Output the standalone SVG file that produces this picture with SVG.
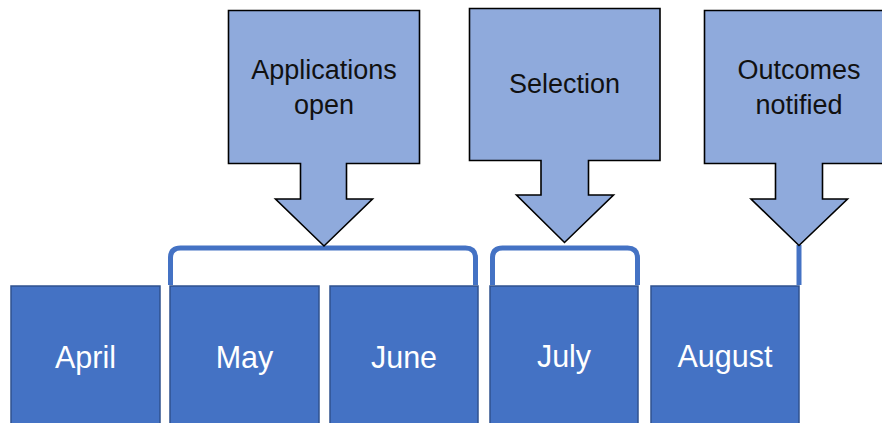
<svg xmlns="http://www.w3.org/2000/svg" width="882" height="423" viewBox="0 0 882 423">
<style>
.callout{fill:#8FAADC;stroke:#000;stroke-width:1.6;stroke-linejoin:miter}
.month{fill:#4472C4;stroke:#2F528F;stroke-width:1.5}
.ct{font-family:"Liberation Sans",Arial,sans-serif;font-size:27px;fill:#111;text-anchor:middle}
.mt{font-family:"Liberation Sans",Arial,sans-serif;font-size:30.5px;fill:#fff;text-anchor:middle}
.br{fill:none;stroke:#4472C4;stroke-width:5;stroke-linecap:butt}
</style>
<rect width="882" height="423" fill="#fff"/>
<g id="april"><rect class="month" x="11" y="286" width="149" height="145"/><text class="mt" x="85.5" y="368">April</text></g>
<g id="may"><rect class="month" x="170" y="286" width="149" height="145"/><text class="mt" x="244.5" y="368">May</text></g>
<g id="june"><rect class="month" x="330" y="286" width="148" height="145"/><text class="mt" x="404" y="368">June</text></g>
<g id="july"><rect class="month" x="490" y="286" width="148" height="145"/><text class="mt" x="564" y="367">July</text></g>
<g id="august"><rect class="month" x="651" y="286" width="148" height="145"/><text class="mt" x="725" y="367">August</text></g>
<g id="connectors">
<path class="br" d="M170.5 285 V258 Q170.5 248 180.5 248 H465.5 Q475.5 248 475.5 258 V285"/>
<path class="br" d="M492.5 285 V258 Q492.5 248 502.5 248 H627.5 Q637.5 248 637.5 258 V285"/>
<line class="br" x1="799" y1="245" x2="799" y2="285"/>
</g>
<g id="applications-open">
<path class="callout" d="M228.5 10.5 H419.5 V163.5 H346.5 V199 H372.5 L324 246 L275.5 199 H300.5 V163.5 H228.5 Z"/>
<text class="ct" x="324" y="79">Applications</text>
<text class="ct" x="324" y="114">open</text>
</g>
<g id="selection">
<path class="callout" d="M469.5 8.5 H660 V160.5 H588.5 V195 H613.5 L564.5 242.5 L516.5 195 H541 V160.5 H469.5 Z"/>
<text class="ct" x="564.5" y="93">Selection</text>
</g>
<g id="outcomes-notified">
<path class="callout" d="M704.5 10.5 H895 V163.5 H822.5 V199 H847.5 L799 245.5 L751 199 H775.5 V163.5 H704.5 Z"/>
<text class="ct" x="799" y="79">Outcomes</text>
<text class="ct" x="799" y="114">notified</text>
</g>
</svg>
